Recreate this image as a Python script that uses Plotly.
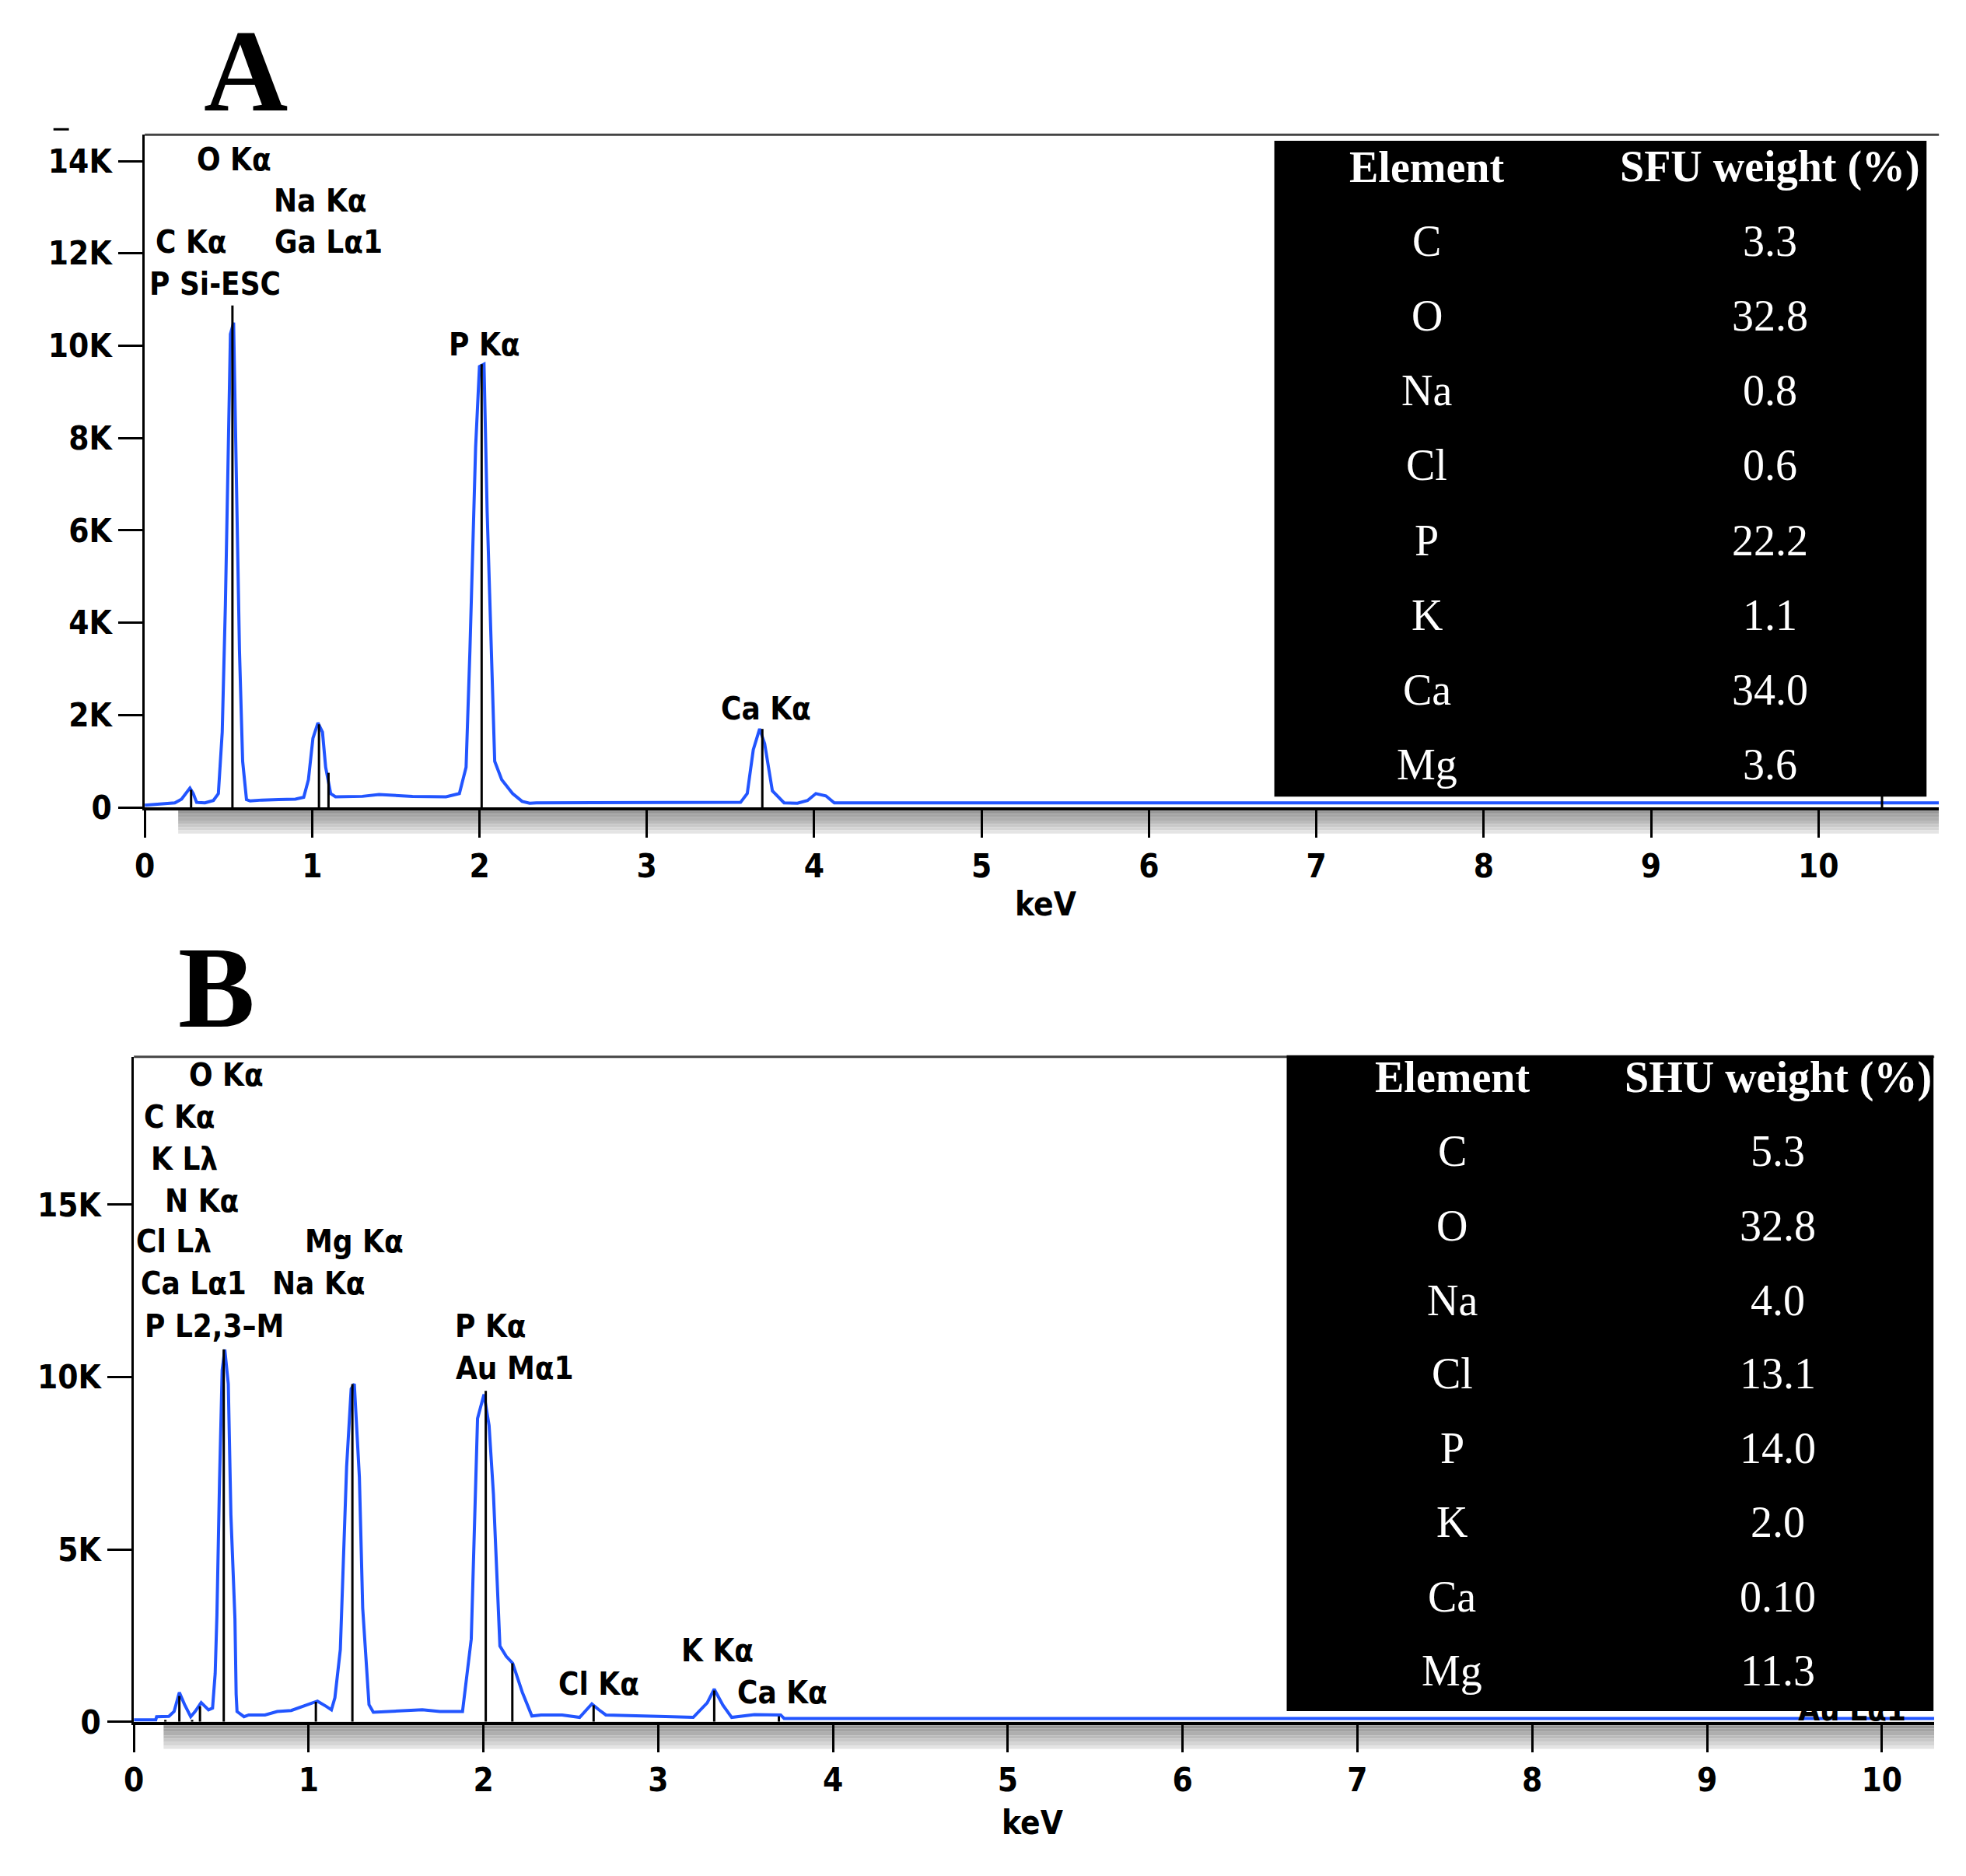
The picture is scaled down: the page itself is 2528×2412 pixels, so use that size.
import plotly.graph_objects as go

W, H = 2528, 2412

# ---------------- Panel A data ----------------
a_energy = [0.00, 0.10, 0.18, 0.22, 0.25, 0.27, 0.29, 0.31, 0.36, 0.41, 0.44, 0.463, 0.482, 0.501, 0.512, 0.531,
            0.547, 0.566, 0.585, 0.608, 0.63, 0.70, 0.80, 0.90, 0.95, 0.978, 1.005, 1.035, 1.062, 1.081, 1.111,
            1.14, 1.30, 1.40, 1.60, 1.80, 1.88, 1.92, 1.943, 1.962, 1.977, 2.00, 2.027, 2.046, 2.065, 2.091,
            2.133, 2.198, 2.255, 2.30, 2.34, 2.60, 3.00, 3.40, 3.56, 3.60, 3.636, 3.674, 3.704, 3.75, 3.82,
            3.90, 3.96, 4.01, 4.07, 4.12, 4.40, 5.50, 6.30, 6.80, 7.50, 8.50, 9.50, 10.72]
a_counts = [50, 80, 100, 180, 330, 420, 300, 110, 100, 150, 300, 1630, 4400, 8100, 10250, 10500,
            7500, 3400, 1000, 170, 140, 160, 170, 180, 220, 600, 1500, 1830, 1630, 870, 300,
            230, 240, 280, 240, 230, 300, 870, 3400, 5600, 7800, 9550, 9600, 6400, 3900, 1000,
            600, 300, 130, 90, 100, 100, 100, 100, 110, 300, 1250, 1700, 1380, 360, 100,
            90, 150, 300, 250, 100, 100, 100, 110, 100, 100, 100, 100, 100]

a_line_energy = [0.277, 0.524, 1.041, 1.098, 2.013, 3.690, 10.38]
a_line_height = [380, 10870, 1800, 750, 9600, 1700, 260]

a_labels = ["O Kα", "Na Kα", "C Kα", "Ga Lα1", "P Si-ESC", "P Kα", "Ca Kα"]
a_label_x = [0.533, 1.05, 0.28, 1.10, 0.42, 2.03, 3.71]
a_label_y = [14030, 13140, 12250, 12250, 11340, 10030, 2140]

a_elements = ["C", "O", "Na", "Cl", "P", "K", "Ca", "Mg"]
a_weights = ["3.3", "32.8", "0.8", "0.6", "22.2", "1.1", "34.0", "3.6"]

a_yticks = [0, 2000, 4000, 6000, 8000, 10000, 12000, 14000]
a_yticktext = ["0", "2K", "4K", "6K", "8K", "10K", "12K", "14K"]

# ---------------- Panel B data ----------------
b_energy = [0.00, 0.125, 0.13, 0.20, 0.23, 0.26, 0.29, 0.325, 0.35, 0.385, 0.427, 0.45, 0.465, 0.475,
            0.49, 0.505, 0.52, 0.54, 0.555, 0.578, 0.585, 0.59, 0.63, 0.657, 0.75, 0.82, 0.90, 1.00,
            1.05, 1.10, 1.13, 1.15, 1.181, 1.217, 1.243, 1.261, 1.29, 1.309, 1.345, 1.37, 1.45, 1.55,
            1.65, 1.75, 1.88, 1.93, 1.966, 2.003, 2.032, 2.057, 2.094, 2.13, 2.167, 2.222, 2.277, 2.33,
            2.45, 2.55, 2.62, 2.66, 2.70, 3.00, 3.20, 3.28, 3.32, 3.37, 3.42, 3.55, 3.70, 3.72, 4.50,
            5.50, 6.50, 7.50, 8.50, 9.50, 10.30]
b_counts = [60, 60, 150, 160, 300, 850, 500, 150, 300, 560, 350, 400, 1400, 3100,
            7000, 10200, 10800, 9800, 6000, 3000, 800, 300, 150, 200, 200, 300, 330, 500,
            600, 450, 350, 700, 2100, 7400, 9660, 9800, 7100, 3300, 500, 280, 300, 330,
            350, 300, 300, 2400, 8800, 9500, 8600, 6600, 2200, 1900, 1700, 860, 170, 200,
            200, 130, 520, 350, 200, 160, 130, 550, 950, 480, 130, 210, 200, 100, 100,
            100, 100, 100, 100, 100, 100]

b_line_energy = [0.180, 0.260, 0.333, 0.378, 0.514, 1.041, 1.250, 2.013, 2.165, 2.630, 3.320, 3.690]
b_line_height = [60, 750, 60, 450, 10800, 580, 9800, 9600, 1700, 480, 910, 160]

b_labels = ["O Kα", "C Kα", "K Lλ", "N Kα", "Cl Lλ", "Mg Kα", "Ca Lα1", "Na Kα", "P L2,3–M",
            "P Kα", "Au Mα1", "Cl Kα", "K Kα", "Ca Kα"]
b_label_x = [0.53, 0.26, 0.29, 0.39, 0.23, 1.26, 0.34, 1.06, 0.46, 2.04, 2.18, 2.66, 3.34, 3.71]
b_label_y = [18770, 17550, 16330, 15110, 13930, 13930, 12710, 12710, 11490, 11490, 10270, 1110, 2080, 860]

b_hidden_label = ["Au Lα1"]
b_hidden_x = [9.83]
b_hidden_y = [260]

b_elements = ["C", "O", "Na", "Cl", "P", "K", "Ca", "Mg"]
b_weights = ["5.3", "32.8", "4.0", "13.1", "14.0", "2.0", "0.10", "11.3"]

b_yticks = [0, 5000, 10000, 15000]
b_yticktext = ["0", "5K", "10K", "15K"]

x_ticks = list(range(0, 11))

# ---------------- Layout geometry (pixels) ----------------
def px(x):
    return x / W

def py(y):
    return 1 - y / H

A_L, A_R, A_T, A_B = 174, 2493, 175, 1049
B_L, B_R, B_T, B_B = 160, 2487, 1373, 2237
A_XMAX, A_YMAX = 10.72, 14570
B_XMAX, B_YMAX = 10.30, 19290

BLUE = "#2255ff"
LAB_FONT = "DejaVu Sans Condensed, Liberation Sans Narrow, Liberation Sans, sans-serif"
SERIF = "Liberation Serif, Times New Roman, serif"


def stem_xy(energies, heights):
    xs, ys = [], []
    for e, h in zip(energies, heights):
        xs += [e, e, None]
        ys += [0, h, None]
    return xs, ys


fig = go.Figure()

fig.add_trace(go.Scatter(x=a_energy, y=a_counts, mode="lines", line=dict(color=BLUE, width=4),
                         xaxis="x", yaxis="y", hoverinfo="skip"))
sx, sy = stem_xy(a_line_energy, a_line_height)
fig.add_trace(go.Scatter(x=sx, y=sy, mode="lines", line=dict(color="black", width=3),
                         xaxis="x", yaxis="y", hoverinfo="skip"))

fig.add_trace(go.Scatter(x=b_energy, y=b_counts, mode="lines", line=dict(color=BLUE, width=4),
                         xaxis="x2", yaxis="y2", hoverinfo="skip"))
sx, sy = stem_xy(b_line_energy, b_line_height)
fig.add_trace(go.Scatter(x=sx, y=sy, mode="lines", line=dict(color="black", width=3),
                         xaxis="x2", yaxis="y2", hoverinfo="skip"))
fig.add_trace(go.Scatter(x=b_hidden_x, y=b_hidden_y, mode="text", text=b_hidden_label,
                         textfont=dict(family=LAB_FONT, size=40, color="black", weight="bold"),
                         cliponaxis=False, xaxis="x2", yaxis="y2", hoverinfo="skip"))

tickfont = dict(family=LAB_FONT, size=42, color="black", weight="bold")

def xaxis_cfg(dom, xmax, anchor):
    return dict(domain=dom, range=[0, xmax], tickvals=x_ticks, ticks="outside", ticklen=35,
                tickwidth=3, tickcolor="black", showline=True, linewidth=4, linecolor="black",
                showgrid=False, zeroline=False, tickfont=tickfont, anchor=anchor, fixedrange=True)

def yaxis_cfg(dom, ymax, tv, tt, anchor):
    return dict(domain=dom, range=[0, ymax], tickvals=tv, ticktext=tt, ticks="outside", ticklen=31,
                tickwidth=3, tickcolor="black", showline=True, linewidth=3, linecolor="black",
                showgrid=False, zeroline=False, tickfont=tickfont, anchor=anchor, fixedrange=True)

shapes = []
annotations = []

# gray gradient bands under the x axes
band_cols = ["#8c8c8c", "#979797", "#a3a3a3", "#afafaf", "#bbbbbb", "#c8c8c8", "#d5d5d5", "#e4e4e4"]
for (xr, yr, x0, xmax, hfrac) in [("x", "y domain", 0.20, A_XMAX, 34 / (A_B - A_T)),
                                   ("x2", "y2 domain", 0.17, B_XMAX, 35 / (B_B - B_T))]:
    n = len(band_cols)
    for i, c in enumerate(band_cols):
        shapes.append(dict(type="rect", xref=xr, yref=yr, x0=x0, x1=xmax,
                           y0=-hfrac * i / n, y1=-hfrac * (i + 1) / n,
                           fillcolor=c, line=dict(width=0), layer="below"))

# top border lines
for (L, R, T) in [(A_L, A_R, A_T), (B_L, B_R, B_T)]:
    shapes.append(dict(type="line", xref="paper", yref="paper", x0=px(L), x1=px(R), y0=py(T), y1=py(T),
                       line=dict(color="#444444", width=3)))
# small stray dash top-left of panel A
shapes.append(dict(type="line", xref="paper", yref="paper", x0=px(56), x1=px(76), y0=py(168), y1=py(168),
                   line=dict(color="black", width=3)))

# black tables
shapes.append(dict(type="rect", xref="paper", yref="paper", x0=px(1634), x1=px(2477), y0=py(183), y1=py(1035),
                   fillcolor="black", line=dict(width=0), layer="above"))
shapes.append(dict(type="rect", xref="paper", yref="paper", x0=px(1650), x1=px(2486), y0=py(1371), y1=py(2223),
                   fillcolor="black", line=dict(width=0), layer="above"))

def ann(text, x, y, xref, yref, font):
    annotations.append(dict(text=text, x=x, y=y, xref=xref, yref=yref, showarrow=False,
                            xanchor="center", yanchor="middle", font=font))

labfont = dict(family=LAB_FONT, size=40, color="black", weight="bold")
# peak labels
for t, x, y in zip(a_labels, a_label_x, a_label_y):
    ann(t, x, y, "x", "y", labfont)
for t, x, y in zip(b_labels, b_label_x, b_label_y):
    ann(t, x, y, "x2", "y2", labfont)

# table texts
tabfont = dict(family=SERIF, size=56, color="white")
def table(col_x, rows_y, header2, elements, weights):
    ann("<b>Element</b>", px(col_x[0]), py(rows_y[0]), "paper", "paper", tabfont)
    ann("<b>" + header2 + "</b>", px(col_x[1]), py(rows_y[0]), "paper", "paper", tabfont)
    for el, wt, ry in zip(elements, weights, rows_y[1:]):
        ann(el, px(col_x[0]), py(ry), "paper", "paper", tabfont)
        ann(wt, px(col_x[1]), py(ry), "paper", "paper", tabfont)

table([1831, 2275], [217, 313, 410, 507, 604, 702, 799, 896, 993], "SFU weight (%)", a_elements, a_weights)
table([1864, 2285], [1400, 1496, 1593, 1690, 1784, 1881, 1977, 2074, 2170], "SHU weight (%)", b_elements, b_weights)

# axis titles
ann("keV", px(1339), py(1175), "paper", "paper", tickfont)
ann("keV", px(1322), py(2368), "paper", "paper", tickfont)

# panel letters
ann("<b>A</b>", px(305), py(92), "paper", "paper", dict(family=SERIF, size=150, color="black"))
ann("<b>B</b>", px(267), py(1283), "paper", "paper", dict(family=SERIF, size=148, color="black"))

fig.update_layout(
    width=W, height=H, margin=dict(l=0, r=0, t=0, b=0),
    paper_bgcolor="white", plot_bgcolor="white", showlegend=False,
    xaxis=xaxis_cfg([px(A_L), px(A_R)], A_XMAX, "y"),
    yaxis=yaxis_cfg([py(A_B), py(A_T)], A_YMAX, a_yticks, a_yticktext, "x"),
    xaxis2=xaxis_cfg([px(B_L), px(B_R)], B_XMAX, "y2"),
    yaxis2=yaxis_cfg([py(B_B), py(B_T)], B_YMAX, b_yticks, b_yticktext, "x2"),
    shapes=shapes, annotations=annotations,
)

fig.write_html("out.html", config={"displayModeBar": False},
               post_script="document.body.style.margin='0';document.body.style.overflow='hidden';")
